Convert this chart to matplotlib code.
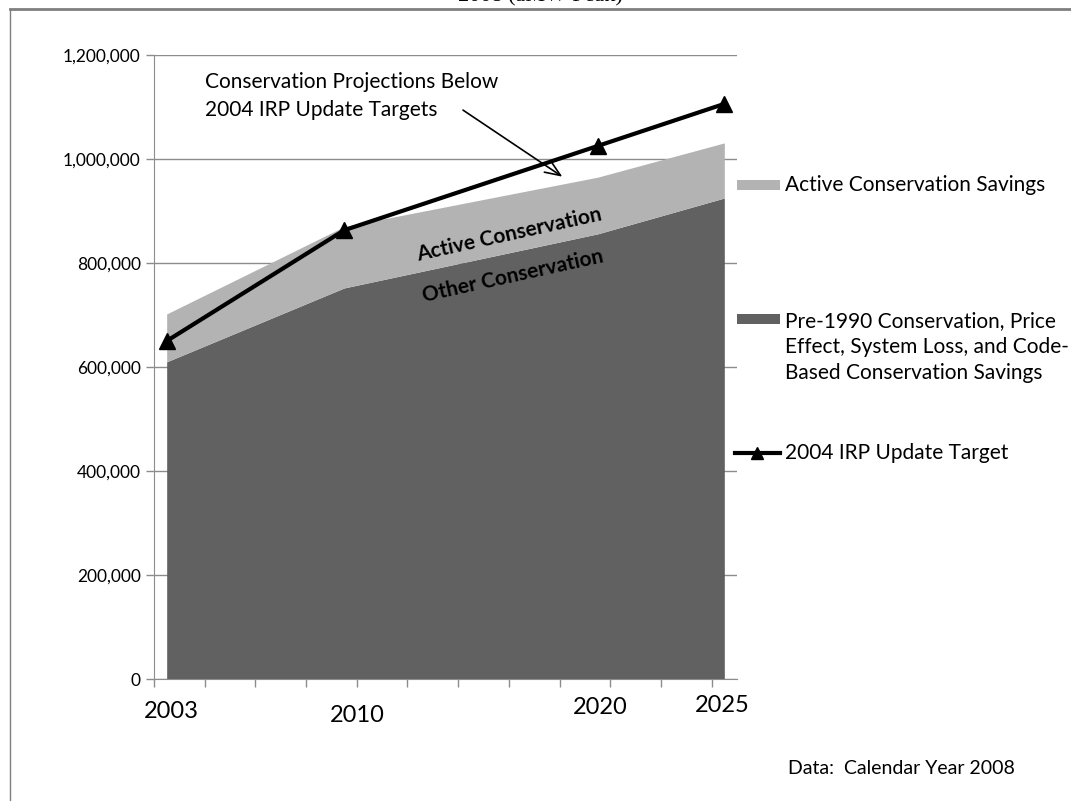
import matplotlib.pyplot as plt
from matplotlib.patches import Rectangle
from matplotlib.lines import Line2D
import numpy as np

# datos
years = [2003, 2010, 2020, 2025]
other_conservation = [610000, 752000, 856000, 925000]
active_total = [702000, 870000, 965000, 1031000]
irp_target = [650000, 863000, 1025000, 1106000]
year_labels = ["2003", "2010", "2020", "2025"]
yticks = [0, 200000, 400000, 600000, 800000, 1000000, 1200000]

W, H = 1071, 801
DARK = "#616161"
LIGHT = "#b3b3b3"
GRID = "#8c8c8c"
FONT = "Lato"

def fx(px):
    return px / W

def fy(py):
    return 1 - py / H

fig = plt.figure(figsize=(W / 100, H / 100), dpi=100)
ax = fig.add_axes([fx(154), fy(679), fx(737) - fx(154), fy(55) - fy(679)])

# areas apiladas
ax.fill_between(years, 0, other_conservation, color=DARK, lw=0, zorder=2)
ax.fill_between(years, other_conservation, active_total, color=LIGHT, lw=0, zorder=2)
ax.plot(years, irp_target, color="black", lw=3, marker="^", ms=11, zorder=4)

ax.set_xlim(2002.5, 2025.5)
ax.set_ylim(0, 1200000)
ax.set_yticks(yticks)
ax.set_yticklabels([f"{v:,}" for v in yticks], fontsize=12.5, family=FONT)
ax.yaxis.grid(True, color=GRID, lw=1, zorder=1)
ax.set_axisbelow(True)
ax.set_xticks(np.arange(2002.5, 2025, 2))
ax.set_xticklabels([])
ax.tick_params(axis="both", direction="out", length=6, color=GRID, width=1)
for s in ["top", "right"]:
    ax.spines[s].set_visible(False)
for s in ["left", "bottom"]:
    ax.spines[s].set_color(GRID)

# etiquetas de anos (desplazadas como en el original)
label_y = [712, 716, 707, 706]
label_x = [171, 357, 600, 722]
for lab, lx, ly in zip(year_labels, label_x, label_y):
    fig.text(fx(lx), fy(ly), lab, ha="center", va="center", fontsize=17, family=FONT)

# textos dentro del grafico
ax.text(2016.5, 854000, "Active Conservation", rotation=12.5, ha="center", va="center",
        fontsize=15, fontweight="bold", family=FONT, zorder=5)
ax.text(2016.65, 775000, "Other Conservation", rotation=12.5, ha="center", va="center",
        fontsize=15, fontweight="bold", family=FONT, zorder=5)

fig.text(fx(205), fy(96), "Conservation Projections Below\n2004 IRP Update Targets",
         ha="left", va="center", fontsize=15, family=FONT, linespacing=1.45)
ax.annotate("", xy=(2018.7, 963000), xytext=(2014.6, 1097000),
            arrowprops=dict(arrowstyle="->,head_length=1.1,head_width=0.45", color="black", lw=1.2),
            zorder=6)

# leyenda manual (estilo excel)
fig.patches.append(Rectangle((fx(737), fy(190)), fx(43), 10 / H, transform=fig.transFigure,
                             color=LIGHT, lw=0))
fig.text(fx(785), fy(185), "Active Conservation Savings", va="center", fontsize=15, family=FONT)
fig.patches.append(Rectangle((fx(737), fy(324)), fx(43), 10 / H, transform=fig.transFigure,
                             color=DARK, lw=0))
fig.text(fx(785), fy(347), "Pre-1990 Conservation, Price\nEffect, System Loss, and Code-\nBased Conservation Savings",
         va="center", fontsize=15, family=FONT, linespacing=1.4)
fig.lines.append(Line2D([fx(735), fx(780)], [fy(453), fy(453)], transform=fig.transFigure,
                        color="black", lw=3))
fig.lines.append(Line2D([fx(757)], [fy(453)], transform=fig.transFigure,
                        color="black", marker="^", ms=9, lw=0))
fig.text(fx(785), fy(453), "2004 IRP Update Target", va="center", fontsize=15, family=FONT)

fig.text(fx(788), fy(769), "Data:  Calendar Year 2008", va="center", fontsize=14, family=FONT)

# borde del marco y titulo cortado
fig.lines.append(Line2D([fx(10), 1], [fy(8.5), fy(8.5)], transform=fig.transFigure, color="#7f7f7f", lw=2))
fig.lines.append(Line2D([fx(10), fx(10)], [fy(8.5), 0], transform=fig.transFigure, color="#7f7f7f", lw=1))
fig.text(fx(540), fy(-3), "2008 (aMW-Peak)", ha="center", va="center", fontsize=16,
         family="Liberation Serif")

fig.savefig("out.png", dpi=100)
